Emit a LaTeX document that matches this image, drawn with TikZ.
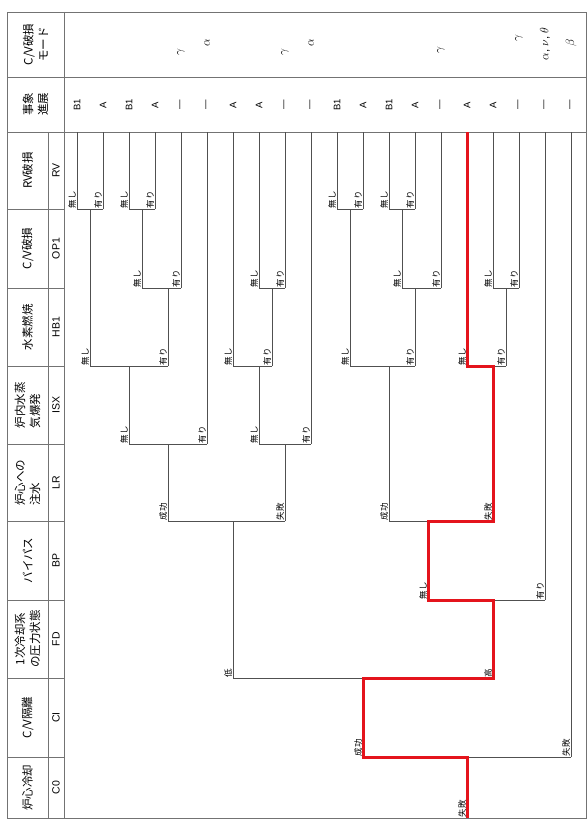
\documentclass[tikz,border=0pt]{standalone}
\usepackage{fontspec}
\setmainfont{Liberation Sans}
\newfontfamily\jp{Noto Sans CJK JP}
\usetikzlibrary{calc}

\definecolor{cvred}{RGB}{228,20,28}
\definecolor{linegray}{RGB}{80,80,80}

\tikzset{
  tree/.style={draw=linegray, line width=0.8pt},
  frame/.style={draw=black!55, line width=0.8pt},
  redpath/.style={draw=cvred, line width=3pt, line join=miter},
  brl/.style={rotate=90, anchor=south west, inner sep=0.8pt, font=\jp\fontsize{8.5}{8.5}\selectfont},
  evt/.style={rotate=90, inner sep=0pt, font=\fontsize{9.5}{9.5}\selectfont},
  mode/.style={rotate=90, inner sep=0pt, font=\fontsize{11.5}{11.5}\selectfont},
  head/.style={rotate=90, align=center, inner sep=0pt, font=\jp\fontsize{11.5}{15}\selectfont},
  code/.style={rotate=90, inner sep=0pt, font=\fontsize{10.5}{10.5}\selectfont},
}

% one branching: stem from the parent, then the bar between both outcomes
\newcommand{\evbranch}[3]{\draw[tree] (#1) -- (#1 |- #2) (#2) -- (#3);}
\newcommand{\brlabel}[2]{\node[brl] (t-#1) at (#1) {#2};}

\begin{document}
\begin{tikzpicture}[x=1pt, y=-1pt]
\useasboundingbox (0,0) rectangle (588,832);

% Frame and heading column
\draw[frame] (7,12) rectangle (586,818);
\draw[frame] (7,77) -- (586,77);
\draw[frame] (7,132) -- (586,132);
\draw[frame] (64,12) -- (64,818);
\draw[frame] (48,132) -- (48,818);
\foreach \y in {209,288,366,444,521,600,678,757}
  \draw[frame] (7,\y) -- (64,\y);

% Headings
\node[head] (h-mode) at (35.5,44.5) {C/V破損\\モード};
\node[head] (h-ev) at (35.5,104.5) {事象\\進展};
\node[head] (h-rv) at (27.5,170.5) {RV破損};
\node[head] (h-op) at (27.5,248.5) {C/V破損};
\node[head] (h-hb) at (27.5,327) {水素燃焼};
\node[head, align=left] (h-isx) at (27.5,405) {炉内水蒸\\気爆発};
\node[head, align=left] (h-lr) at (27.5,482.5) {炉心への\\注水};
\node[head] (h-bp) at (27.5,560.5) {バイパス};
\node[head] (h-fd) at (27.5,639) {1次冷却系\\の圧力状態};
\node[head] (h-ci) at (27.5,717.5) {C/V隔離};
\node[head] (h-c0) at (27.5,787.5) {炉心冷却};

% Heading codes
\node[code] (c-rv) at (56,170.5) {RV};
\node[code] (c-op) at (56,248.5) {OP1};
\node[code] (c-hb) at (56,327) {HB1};
\node[code] (c-isx) at (56,405) {ISX};
\node[code] (c-lr) at (56,482.5) {LR};
\node[code] (c-bp) at (56,560.5) {BP};
\node[code] (c-fd) at (56,639) {FD};
\node[code] (c-ci) at (56,717.5) {CI};
\node[code] (c-c0) at (56,787.5) {C0};

% Sequence ends and their progression
\foreach \k/\ev in {0/B1,1/A,2/B1,3/A,4/—,5/—,6/A,7/A,8/—,9/—,10/B1,11/A,12/B1,13/A,14/—,15/A,16/A,17/—,18/—,19/—} {
  \coordinate (L\k) at ({77+26*\k},132);
  \node[evt] (ev\k) at ({77+26*\k},105) {\ev};
}

% C/V failure modes
\node[mode] (md4) at (181,52) {$\gamma$};
\node[mode] (md5) at (207,43) {$\alpha$};
\node[mode] (md8) at (285,52) {$\gamma$};
\node[mode] (md9) at (311,43) {$\alpha$};
\node[mode] (md14) at (441,50) {$\gamma$};
\node[mode] (md17) at (519,38) {$\gamma$};
\node[mode] (md18) at (545,44) {$\alpha$, $\nu$, $\theta$};
\node[mode] (md19) at (571,43) {$\beta$};

% Tree points
\coordinate (c0) at (467,818);
% CI
\coordinate (ci-s) at (363,757);
\coordinate (ci-f) at (571,757);
% FD
\coordinate (fd-l) at (233,678);
\coordinate (fd-h) at (493,678);
% BP
\coordinate (bp-n) at (428,600);
\coordinate (bp-y) at (545,600);
% LR
\coordinate (lr1-s) at (168,521);
\coordinate (lr1-f) at (285,521);
\coordinate (lr2-s) at (389,521);
\coordinate (lr2-f) at (493,521);
% ISX
\coordinate (isx1-n) at (129,444);
\coordinate (isx1-y) at (207,444);
\coordinate (isx2-n) at (259,444);
\coordinate (isx2-y) at (311,444);
% HB1
\coordinate (hb1-n) at (90,366);
\coordinate (hb1-y) at (168,366);
\coordinate (hb2-n) at (233,366);
\coordinate (hb2-y) at (272,366);
\coordinate (hb3-n) at (350,366);
\coordinate (hb3-y) at (415,366);
\coordinate (hb4-n) at (467,366);
\coordinate (hb4-y) at (506,366);
% OP1
\coordinate (op1-n) at (142,288);
\coordinate (op1-y) at (181,288);
\coordinate (op2-n) at (259,288);
\coordinate (op2-y) at (285,288);
\coordinate (op3-n) at (402,288);
\coordinate (op3-y) at (441,288);
\coordinate (op4-n) at (493,288);
\coordinate (op4-y) at (519,288);
% RV
\coordinate (rv1-n) at (77,209);
\coordinate (rv1-y) at (103,209);
\coordinate (rv2-n) at (129,209);
\coordinate (rv2-y) at (155,209);
\coordinate (rv3-n) at (337,209);
\coordinate (rv3-y) at (363,209);
\coordinate (rv4-n) at (389,209);
\coordinate (rv4-y) at (415,209);

% Branches
\evbranch{c0}{ci-s}{ci-f}
\evbranch{ci-s}{fd-l}{fd-h}
\evbranch{fd-h}{bp-n}{bp-y}
\evbranch{fd-l}{lr1-s}{lr1-f}
\evbranch{bp-n}{lr2-s}{lr2-f}
\evbranch{lr1-s}{isx1-n}{isx1-y}
\evbranch{lr1-f}{isx2-n}{isx2-y}
\evbranch{isx1-n}{hb1-n}{hb1-y}
\evbranch{isx2-n}{hb2-n}{hb2-y}
\evbranch{lr2-s}{hb3-n}{hb3-y}
\evbranch{lr2-f}{hb4-n}{hb4-y}
\evbranch{hb1-y}{op1-n}{op1-y}
\evbranch{hb2-y}{op2-n}{op2-y}
\evbranch{hb3-y}{op3-n}{op3-y}
\evbranch{hb4-y}{op4-n}{op4-y}
\evbranch{hb1-n}{rv1-n}{rv1-y}
\evbranch{op1-n}{rv2-n}{rv2-y}
\evbranch{hb3-n}{rv3-n}{rv3-y}
\evbranch{op3-n}{rv4-n}{rv4-y}

% Stems up to the sequence ends
\foreach \a/\k in {rv1-n/0,rv1-y/1,rv2-n/2,rv2-y/3,op1-y/4,isx1-y/5,hb2-n/6,op2-n/7,op2-y/8,isx2-y/9,rv3-n/10,rv3-y/11,rv4-n/12,rv4-y/13,op3-y/14,hb4-n/15,op4-n/16,op4-y/17,bp-y/18,ci-f/19}
  \draw[tree] (\a) -- (L\k);

% Highlighted sequence
\draw[redpath] (c0) -- (c0 |- ci-s) -- (ci-s) -- (ci-s |- fd-h) -- (fd-h) -- (fd-h |- bp-n) -- (bp-n) -- (bp-n |- lr2-f) -- (lr2-f) -- (lr2-f |- hb4-n) -- (hb4-n) -- (L15);

% Branch labels
\brlabel{c0}{失敗}
\brlabel{ci-s}{成功}
\brlabel{ci-f}{失敗}
\brlabel{fd-l}{低}
\brlabel{fd-h}{高}
\brlabel{lr1-s}{成功}
\brlabel{lr1-f}{失敗}
\brlabel{lr2-s}{成功}
\brlabel{lr2-f}{失敗}
\foreach \a in {bp,isx1,isx2,hb1,hb2,hb3,hb4,op1,op2,op3,op4,rv1,rv2,rv3,rv4} {
  \brlabel{\a-n}{無し}
  \brlabel{\a-y}{有り}
}

\end{tikzpicture}
\end{document}
